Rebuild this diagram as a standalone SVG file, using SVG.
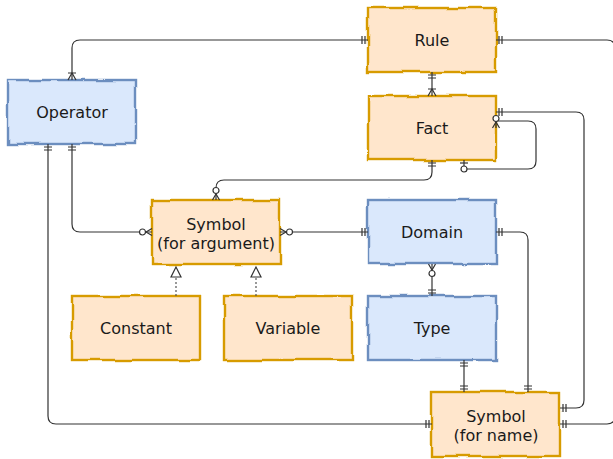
<svg xmlns="http://www.w3.org/2000/svg" width="613" height="459" viewBox="0 0 613 459">
  <style>
    .box { stroke-width: 2.4; filter: url(#rough); }
    .warm { fill: #ffe6cc; stroke: #d79b00; }
    .cool { fill: #dae8fc; stroke: #6c8ebf; }
    .label { font-family: "DejaVu Sans", Verdana, sans-serif; font-size: 16px; fill: #1a1a1a; text-anchor: middle; }
    .edge { fill: none; stroke: #333333; stroke-width: 1.2; }
    .mk { fill: none; stroke: #333333; stroke-width: 1.2; }
    .dotted { fill: none; stroke: #555555; stroke-width: 1.2; stroke-dasharray: 2 2; }
  </style>
  <defs>
    <filter id="rough" x="-5%" y="-10%" width="110%" height="120%">
      <feTurbulence type="fractalNoise" baseFrequency="0.04" numOctaves="1" seed="7" result="noise"/>
      <feDisplacementMap in="SourceGraphic" in2="noise" scale="5" xChannelSelector="R" yChannelSelector="G"/>
    </filter>
    <!-- ER markers: the entity lies toward +x, the line arrives from -x -->
    <marker id="mandOne" markerUnits="userSpaceOnUse" markerWidth="20" markerHeight="20" refX="0" refY="0" orient="auto-start-reverse" overflow="visible">
      <path class="mk" d="M-3,-4 L-3,4 M-6,-4 L-6,4"/>
    </marker>
    <marker id="oneToMany" markerUnits="userSpaceOnUse" markerWidth="20" markerHeight="20" refX="0" refY="0" orient="auto-start-reverse" overflow="visible">
      <path class="mk" d="M0,-4 L-7,0 L0,4 M-7,-4 L-7,4"/>
    </marker>
    <marker id="zeroToMany" markerUnits="userSpaceOnUse" markerWidth="20" markerHeight="20" refX="0" refY="0" orient="auto-start-reverse" overflow="visible">
      <path class="mk" d="M0,-3.5 L-6,0 L0,3.5"/>
      <circle cx="-9.5" cy="0" r="3" fill="#ffffff" stroke="#333333" stroke-width="1.2"/>
    </marker>
    <marker id="zeroToOne" markerUnits="userSpaceOnUse" markerWidth="20" markerHeight="20" refX="0" refY="0" orient="auto-start-reverse" overflow="visible">
      <path class="mk" d="M-3,-4 L-3,4"/>
      <circle cx="-9" cy="0" r="3" fill="#ffffff" stroke="#333333" stroke-width="1.2"/>
    </marker>
    <marker id="hollowTri" markerUnits="userSpaceOnUse" markerWidth="20" markerHeight="20" refX="0" refY="0" orient="auto" overflow="visible">
      <path d="M0,0 L-10,-5 L-10,5 Z" fill="#ffffff" stroke="#333333" stroke-width="1.2"/>
    </marker>
  </defs>

  <g id="rule">
    <rect class="box warm" x="368" y="8" width="128" height="64"/>
    <text class="label" x="432" y="46">Rule</text>
  </g>
  <g id="fact">
    <rect class="box warm" x="368" y="96" width="128" height="64"/>
    <text class="label" x="432" y="134">Fact</text>
  </g>
  <g id="operator">
    <rect class="box cool" x="8" y="80" width="128" height="64"/>
    <text class="label" x="72" y="118">Operator</text>
  </g>
  <g id="symbol-argument">
    <rect class="box warm" x="152" y="200" width="128" height="64"/>
    <text class="label" x="216" y="230">Symbol</text>
    <text class="label" x="216" y="249">(for argument)</text>
  </g>
  <g id="domain">
    <rect class="box cool" x="368" y="200" width="128" height="64"/>
    <text class="label" x="432" y="238">Domain</text>
  </g>
  <g id="type">
    <rect class="box cool" x="368" y="296" width="128" height="64"/>
    <text class="label" x="432" y="334">Type</text>
  </g>
  <g id="constant">
    <rect class="box warm" x="72" y="296" width="128" height="64"/>
    <text class="label" x="136" y="334">Constant</text>
  </g>
  <g id="variable">
    <rect class="box warm" x="224" y="296" width="128" height="64"/>
    <text class="label" x="288" y="334">Variable</text>
  </g>
  <g id="symbol-name">
    <rect class="box warm" x="432" y="392" width="128" height="64"/>
    <text class="label" x="496" y="422">Symbol</text>
    <text class="label" x="496" y="441">(for name)</text>
  </g>

  <g id="connectors">
    <!-- Rule to Operator -->
    <path class="edge" d="M368,40 L80,40 Q72,40 72,48 L72,80" marker-start="url(#mandOne)" marker-end="url(#oneToMany)"/>
    <!-- Rule to Fact -->
    <path class="edge" d="M432,72 L432,96" marker-start="url(#mandOne)" marker-end="url(#oneToMany)"/>
    <!-- Rule to Symbol (for name) -->
    <path class="edge" d="M496,40 L607,40 Q615,40 615,48 L615,416 Q615,424 607,424 L560,424" marker-start="url(#mandOne)" marker-end="url(#mandOne)"/>
    <!-- Fact to Symbol (for name) -->
    <path class="edge" d="M496,112 L576,112 Q584,112 584,120 L584,400 Q584,408 576,408 L560,408" marker-start="url(#mandOne)" marker-end="url(#mandOne)"/>
    <!-- Fact self relation -->
    <path class="edge" d="M464,160 L464,169 L528,169 Q536,169 536,161 L536,129 Q536,121 528,121 L496,121 L496,128" marker-start="url(#zeroToOne)" marker-end="url(#zeroToMany)"/>
    <!-- Fact to Symbol (for argument) -->
    <path class="edge" d="M432,160 L432,172 Q432,180 424,180 L224,180 Q216,180 216,188 L216,200" marker-start="url(#mandOne)" marker-end="url(#zeroToMany)"/>
    <!-- Operator to Symbol (for argument) -->
    <path class="edge" d="M72,144 L72,224 Q72,232 80,232 L152,232" marker-start="url(#mandOne)" marker-end="url(#zeroToMany)"/>
    <!-- Operator to Symbol (for name) -->
    <path class="edge" d="M48,144 L48,416 Q48,424 56,424 L432,424" marker-start="url(#mandOne)" marker-end="url(#mandOne)"/>
    <!-- Symbol (for argument) to Domain -->
    <path class="edge" d="M280,232 L368,232" marker-start="url(#zeroToMany)" marker-end="url(#mandOne)"/>
    <!-- Domain to Type -->
    <path class="edge" d="M432,264 L432,296" marker-start="url(#zeroToMany)" marker-end="url(#mandOne)"/>
    <!-- Domain to Symbol (for name) -->
    <path class="edge" d="M496,232 L520,232 Q528,232 528,240 L528,392" marker-start="url(#mandOne)" marker-end="url(#mandOne)"/>
    <!-- Type to Symbol (for name) -->
    <path class="edge" d="M464,360 L464,392" marker-start="url(#mandOne)" marker-end="url(#mandOne)"/>
    <!-- Generalisations -->
    <path class="dotted" d="M176,296 L176,277"/>
    <path d="M176,277 L176,267" fill="none" stroke="none" marker-end="url(#hollowTri)"/>
    <path class="dotted" d="M256,296 L256,277"/>
    <path d="M256,277 L256,267" fill="none" stroke="none" marker-end="url(#hollowTri)"/>
  </g>
</svg>
